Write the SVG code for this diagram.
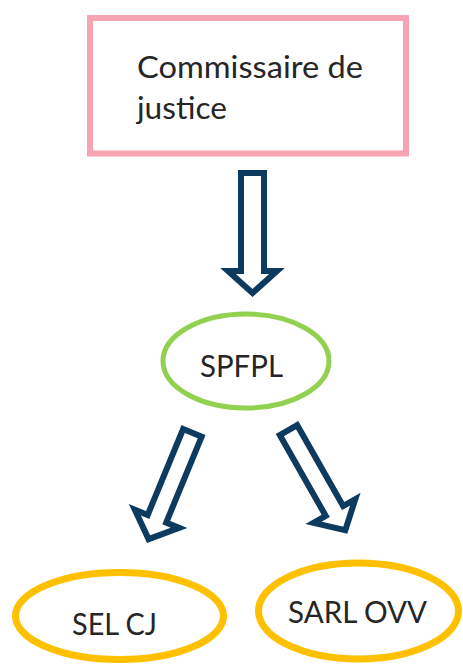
<svg xmlns="http://www.w3.org/2000/svg" xmlns:xlink="http://www.w3.org/1999/xlink" width="463" height="664" viewBox="0 0 463 664">
<style>
.lbl{font-family:Lato,"Liberation Sans",sans-serif;font-size:30px;fill:#262626}
.arrow{fill:#ffffff;stroke:#0C3B5F;stroke-width:6;stroke-linejoin:miter}
</style>
<defs>
<path id="arrMain" d="M-11.5,0 L11.5,0 L11.5,98 L24.5,98 L0,120 L-24.5,98 L-11.5,98 Z"/>
<path id="arrDiag" d="M-10,0 L10,0 L10,93 L24,93 L0,115 L-24,93 L-10,93 Z"/>
</defs>
<rect width="463" height="664" fill="#ffffff"/>
<g id="connectors">
<use xlink:href="#arrMain" class="arrow" transform="translate(252.5,173)"/>
<use xlink:href="#arrDiag" class="arrow" transform="translate(192.4,432.8) rotate(22.4)"/>
<use xlink:href="#arrDiag" class="arrow" transform="translate(288.5,430.1) rotate(-29.6)"/>
</g>
<g id="commissaire">
<rect x="90" y="18" width="316" height="135.5" fill="#ffffff" stroke="#F7A3B1" stroke-width="6"/>
<text class="lbl" x="137" y="78" textLength="226" lengthAdjust="spacingAndGlyphs">Commissaire de</text>
<text class="lbl" x="137" y="119" textLength="90" lengthAdjust="spacingAndGlyphs">justice</text>
</g>
<g id="spfpl">
<ellipse cx="246" cy="361" rx="83" ry="47" fill="#ffffff" stroke="#92D050" stroke-width="5"/>
<text class="lbl" x="200" y="377" textLength="83" lengthAdjust="spacingAndGlyphs">SPFPL</text>
</g>
<g id="selcj">
<ellipse cx="119.5" cy="616" rx="104" ry="43.5" fill="#ffffff" stroke="#FFC000" stroke-width="7"/>
<text class="lbl" x="72" y="635" textLength="85" lengthAdjust="spacingAndGlyphs">SEL CJ</text>
</g>
<g id="sarlovv">
<ellipse cx="358.5" cy="611" rx="100" ry="48" fill="#ffffff" stroke="#FFC000" stroke-width="7"/>
<text class="lbl" x="288" y="623" textLength="139" lengthAdjust="spacingAndGlyphs">SARL OVV</text>
</g>
</svg>
